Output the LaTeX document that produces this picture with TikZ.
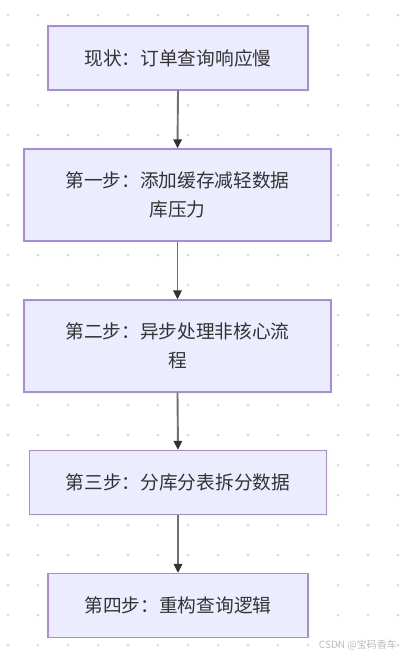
\documentclass[tikz,border=0pt]{standalone}
\usepackage{fontspec}
\newfontfamily\cjk{Noto Sans CJK SC}
\usetikzlibrary{arrows.meta}
\definecolor{boxfill}{HTML}{ECECFF}
\definecolor{boxborder}{HTML}{A78AE2}
\definecolor{textgray}{HTML}{333333}
\definecolor{linegray}{HTML}{707070}
\definecolor{tipgray}{HTML}{333333}
\definecolor{dotgray}{HTML}{DADADA}
\definecolor{markgray}{HTML}{BDBDBD}
\begin{document}
\begin{tikzpicture}[x=1pt,y=-1pt,
  box/.style={draw=boxborder, fill=boxfill, line width=1.3pt, text=textgray,
    font=\cjk\fontsize{18.7}{28.5}\selectfont, align=center, inner sep=0pt},
  conn/.style={draw=linegray, line width=1.9pt,
    -{Triangle[length=9pt,width=8.5pt,color=tipgray,fill=tipgray]}},
  watermark/.style={text=markgray, font=\cjk\fontsize{10}{12}\selectfont, inner sep=0pt}]
\useasboundingbox[fill=white] (0,0) rectangle (400,657);
\foreach \xx in {8,38,...,398} {
  \foreach \yy in {15,45,...,645} {
    \fill[dotgray] (\xx,\yy) circle (1.5);
  }
}
\node[box, minimum width=260, minimum height=64] (b1) at (178,58) {现状：订单查询响应慢};
\node[box, minimum width=307, minimum height=92] (b2) at (177.5,195) {第一步：添加缓存减轻数据\\库压力};
\node[box, minimum width=307, minimum height=92] (b3) at (177.5,346) {第二步：异步处理非核心流\\程};
\node[box, minimum width=297, minimum height=64] (b4) at (178,482.5) {第三步：分库分表拆分数据};
\node[box, minimum width=260, minimum height=64] (b5) at (178,605.5) {第四步：重构查询逻辑};
\draw[conn] (b1.south) -- (b2.north);
\draw[conn] (b2.south) -- (b3.north);
\draw[conn] (b3.south) -- (b4.north);
\draw[conn] (b4.south) -- (b5.north);
\node[watermark, anchor=east] (wm) at (397,645) {CSDN @宝码香车};
\end{tikzpicture}
\end{document}
